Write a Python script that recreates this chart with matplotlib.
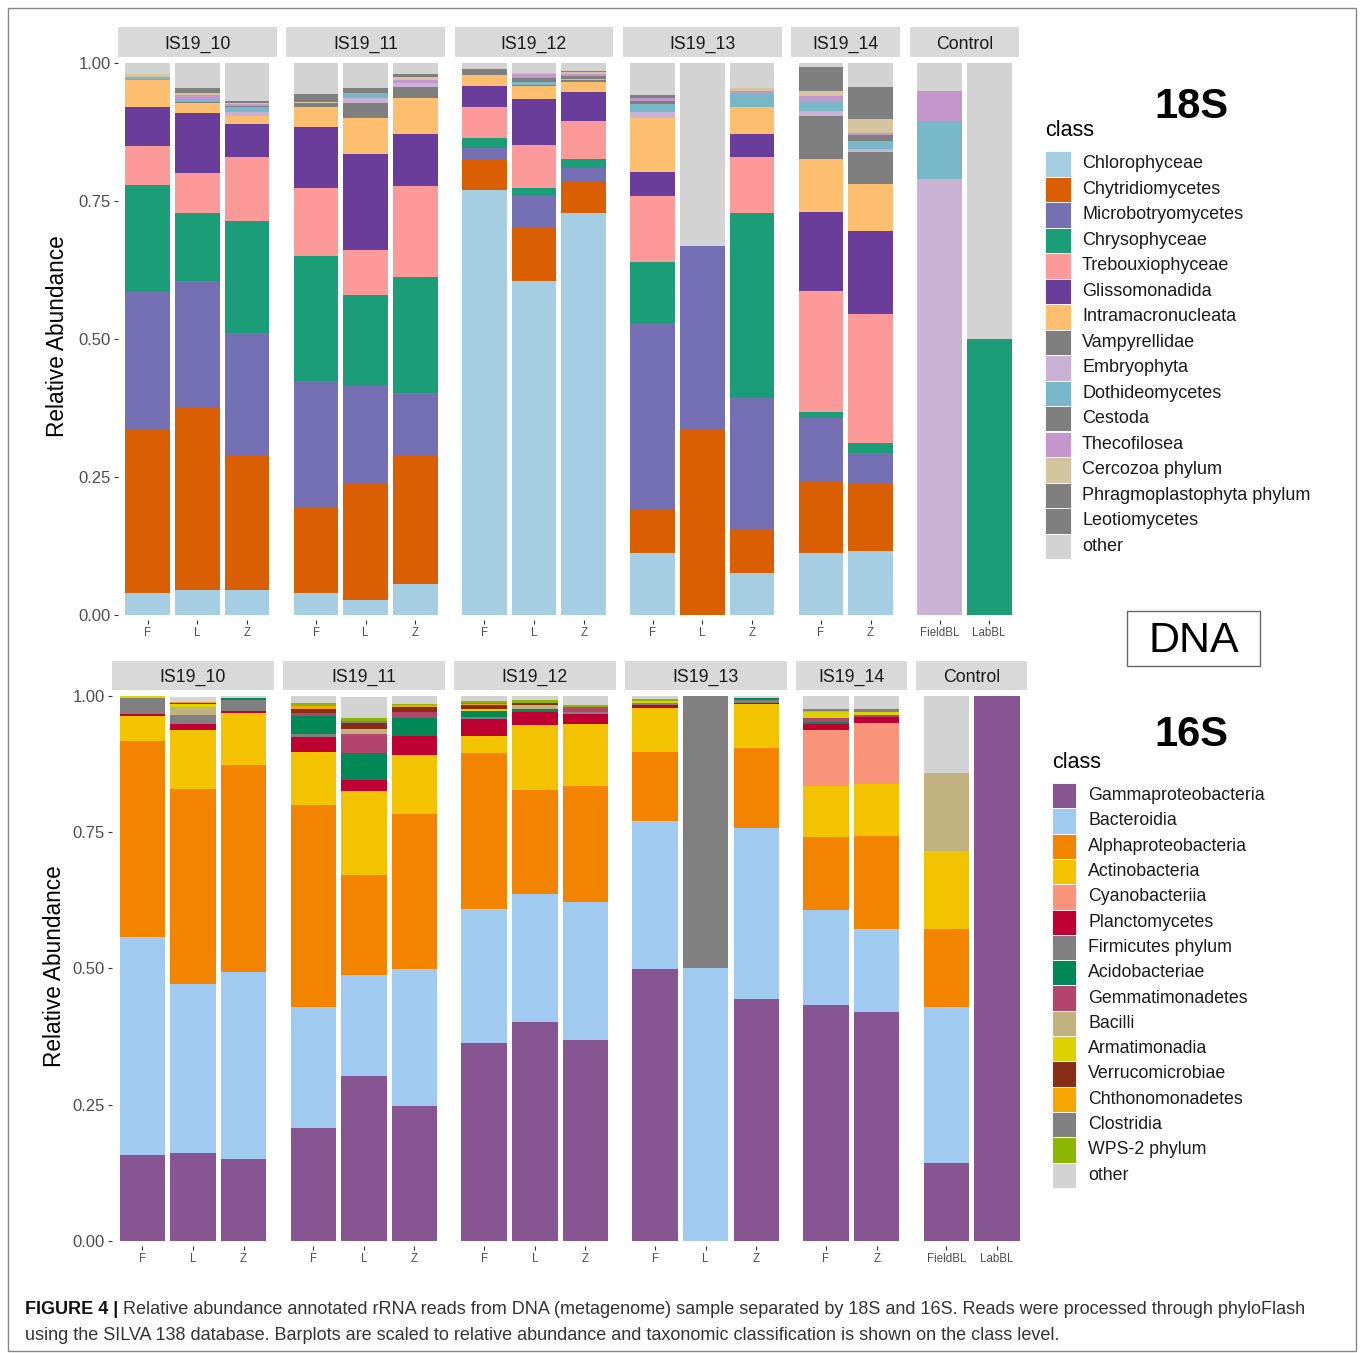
import matplotlib.pyplot as plt
from matplotlib.patches import Rectangle
import numpy as np

plt.rcParams['font.family'] = ['Liberation Sans', 'DejaVu Sans']

W, H = 1360, 1353

sites = ["IS19_10", "IS19_11", "IS19_12", "IS19_13", "IS19_14", "Control"]
bar_site = ["IS19_10", "IS19_10", "IS19_10", "IS19_11", "IS19_11", "IS19_11",
            "IS19_12", "IS19_12", "IS19_12", "IS19_13", "IS19_13", "IS19_13",
            "IS19_14", "IS19_14", "Control", "Control"]
bar_sample = ["F", "L", "Z", "F", "L", "Z", "F", "L", "Z", "F", "L", "Z",
              "F", "Z", "FieldBL", "LabBL"]

# ---- 18S (eukaryotes) ----
classes_18s = ["Chlorophyceae", "Chytridiomycetes", "Microbotryomycetes", "Chrysophyceae",
               "Trebouxiophyceae", "Glissomonadida", "Intramacronucleata", "Vampyrellidae",
               "Embryophyta", "Dothideomycetes", "Cestoda", "Thecofilosea", "Cercozoa phylum",
               "Phragmoplastophyta phylum", "Leotiomycetes", "other"]
colors_18s = ["#A6CEE3", "#D95F02", "#7570B3", "#1B9E77", "#FB9A99", "#6A3D9A", "#FDBF6F",
              "#7F7F7F", "#CAB2D6", "#78B7C8", "#7F7F7F", "#C396CC", "#D4C49F",
              "#7F7F7F", "#7F7F7F", "#D3D3D3"]

chlorophyceae = [.040, .045, .045, .040, .027, .056, .770, .605, .728, .112, 0, .076, .112, .116, 0, 0]
chytridiomycetes = [.295, .332, .245, .156, .212, .234, .056, .098, .058, .080, .335, .080, .129, .123, 0, 0]
microbotryomycetes = [.252, .228, .221, .228, .176, .112, .020, .058, .023, .337, .333, .237, .116, .054, 0, 0]
chrysophyceae = [.192, .123, .203, .226, .165, .210, .018, .013, .017, .110, 0, .335, .011, .018, 0, .500]
trebouxiophyceae = [.071, .072, .116, .123, .082, .165, .056, .078, .069, .121, 0, .102, .219, .234, 0, 0]
glissomonadida = [.071, .109, .060, .111, .174, .094, .038, .083, .053, .042, 0, .041, .143, .150, 0, 0]
intramacronucleata = [.049, .018, .014, .036, .064, .065, .020, .023, .018, .098, 0, .049, .096, .085, 0, 0]
vampyrellidae = [0, .002, 0, .008, .028, .021, .012, .003, .003, 0, 0, 0, .078, .059, 0, 0]
embryophyta = [0, 0, .007, 0, .009, .006, 0, 0, .002, .011, 0, 0, .009, .005, .790, 0]
dothideomycetes = [.005, .005, .010, 0, .009, 0, 0, .005, 0, .014, 0, .024, .018, .014, .105, 0]
cestoda = [0, .001, .001, 0, 0, 0, 0, .007, .006, .006, 0, 0, 0, .011, 0, 0]
thecofilosea = [0, .007, .004, 0, 0, .006, 0, .007, .003, .006, 0, .005, .009, .005, .054, 0]
cercozoa = [.005, .004, .001, .002, 0, .006, 0, .002, .003, 0, 0, .005, .009, .024, 0, 0]
phragmoplastophyta = [0, .009, .004, .014, .009, .005, 0, 0, .003, .006, 0, 0, .043, .058, 0, 0]
leotiomycetes = [0, 0, 0, 0, 0, 0, 0, 0, 0, 0, 0, 0, 0, 0, 0, 0]
other_18s = [.020, .045, .070, .056, .045, .020, .011, .018, .015, .057, .332, .046, .008, .044, .051, .500]

values_18s = [chlorophyceae, chytridiomycetes, microbotryomycetes, chrysophyceae,
              trebouxiophyceae, glissomonadida, intramacronucleata, vampyrellidae,
              embryophyta, dothideomycetes, cestoda, thecofilosea, cercozoa,
              phragmoplastophyta, leotiomycetes, other_18s]

# ---- 16S (bacteria) ----
classes_16s = ["Gammaproteobacteria", "Bacteroidia", "Alphaproteobacteria", "Actinobacteria",
               "Cyanobacteriia", "Planctomycetes", "Firmicutes phylum", "Acidobacteriae",
               "Gemmatimonadetes", "Bacilli", "Armatimonadia", "Verrucomicrobiae",
               "Chthonomonadetes", "Clostridia", "WPS-2 phylum", "other"]
colors_16s = ["#875692", "#A1CAF1", "#F38400", "#F3C300", "#F99379", "#BE0032", "#808080",
              "#008856", "#B3446C", "#C2B280", "#DCD300", "#882D17", "#F6A600", "#808080",
              "#8DB600", "#D3D3D3"]

gammaproteobacteria = [.158, .161, .150, .207, .303, .248, .363, .402, .369, .499, 0, .444, .433, .420, .143, 1.0]
bacteroidia = [.400, .310, .343, .222, .185, .251, .246, .235, .253, .272, .500, .314, .174, .152, .286, 0]
alphaproteobacteria = [.360, .358, .380, .371, .183, .284, .286, .191, .213, .126, 0, .147, .134, .171, .143, 0]
actinobacteria = [.046, .108, .096, .097, .154, .108, .032, .119, .114, .081, 0, .080, .094, .095, .143, 0]
cyanobacteriia = [0, 0, 0, 0, 0, 0, 0, 0, 0, 0, 0, 0, .103, .112, 0, 0]
planctomycetes = [.003, .012, .003, .028, .020, .035, .031, .024, .018, .006, 0, .003, .011, .011, 0, 0]
firmicutes = [.029, .016, .021, .006, 0, 0, .004, 0, .003, .004, .500, .005, 0, 0, 0, 0]
acidobacteriae = [0, 0, .003, .033, .051, .033, .010, .005, 0, 0, 0, .004, .003, 0, 0, 0]
gemmatimonadetes = [0, 0, 0, .004, .034, .012, 0, 0, .009, 0, 0, 0, .007, .005, 0, 0]
bacilli = [0, .015, 0, 0, .010, 0, 0, .007, 0, 0, 0, 0, 0, 0, .143, 0]
armatimonadia = [.004, .006, 0, 0, 0, 0, .004, 0, 0, .003, 0, 0, .011, .004, 0, 0]
verrucomicrobiae = [0, .0015, 0, .008, .010, .008, .007, .005, 0, 0, 0, 0, 0, 0, 0, 0]
chthonomonadetes = [0, .0015, 0, .006, 0, .004, .003, 0, 0, 0, 0, 0, .003, 0, 0, 0]
clostridia = [0, 0, 0, 0, .005, 0, .002, 0, 0, 0, 0, 0, .004, .006, 0, 0]
wps2 = [0, 0, 0, .006, .0055, .003, .002, .0055, .005, .003, 0, 0, 0, 0, 0, 0]
other_16s = [0, .010, .004, .012, .0385, .0135, .010, .0065, .016, .006, 0, .003, .023, .024, .142, 0]

values_16s = [gammaproteobacteria, bacteroidia, alphaproteobacteria, actinobacteria,
              cyanobacteriia, planctomycetes, firmicutes, acidobacteriae, gemmatimonadetes,
              bacilli, armatimonadia, verrucomicrobiae, chthonomonadetes, clostridia,
              wps2, other_16s]


def fx(px):
    return px / W


def fy(py):
    return 1 - py / H


fig = plt.figure(figsize=(W / 100, H / 100), dpi=100)


def draw_row(values, colors, left0, unit, gap, top, bottom, strip_top, ylab_x):
    x = left0
    for k, site in enumerate(sites):
        idx = [i for i, s in enumerate(bar_site) if s == site]
        n = len(idx)
        w = (n + 0.2) * unit
        ax = fig.add_axes([fx(x), fy(bottom), w / W, (bottom - top) / H])
        pos = np.arange(n)
        base = np.zeros(n)
        for vals, col in zip(values, colors):
            v = np.array([vals[i] for i in idx], dtype=float)
            ax.bar(pos, v, bottom=base, width=0.9, color=col, linewidth=0)
            base += v
        ax.set_xlim(-0.6, n - 0.4)
        ax.set_ylim(-0.0092, 1.011)
        for sp in ax.spines.values():
            sp.set_visible(False)
        ax.set_xticks(pos)
        ax.set_xticklabels([bar_sample[i] for i in idx], fontsize=8.3, color="#4D4D4D")
        ax.tick_params(axis='x', length=2.7, width=0.8, color="#333333", pad=2.5)
        if k == 0:
            ax.set_yticks([0, 0.25, 0.5, 0.75, 1.0])
            ax.set_yticklabels(["0.00", "0.25", "0.50", "0.75", "1.00"], fontsize=12, color="#4D4D4D")
            ax.tick_params(axis='y', length=2.7, width=0.8, color="#333333", pad=2.5)
        else:
            ax.set_yticks([])
        # facet strip
        sax = fig.add_axes([fx(x), fy(top), w / W, (top - strip_top) / H])
        sax.set_facecolor("#D9D9D9")
        sax.set_xticks([])
        sax.set_yticks([])
        for sp in sax.spines.values():
            sp.set_visible(False)
        sax.text(0.5, 0.42, site, ha='center', va='center', fontsize=12.8, color="#1A1A1A",
                 transform=sax.transAxes)
        x += w + gap
    fig.text(fx(ylab_x), fy((top + bottom) / 2 - 2), "Relative Abundance", rotation=90,
             ha='center', va='center', fontsize=16.3, color="#000000")


draw_row(values_18s, colors_18s, 118, 49.65, 9.4, 57, 620, 27, 58)
draw_row(values_16s, colors_16s, 112, 50.6, 9.0, 690, 1246, 661, 55)


def draw_legend(classes, colors, key_x, key_top, key_w, row_h, text_gap, title_y, fs):
    fig.text(fx(key_x), fy(title_y), "class", ha='left', va='center', fontsize=15.5)
    for i, (name, col) in enumerate(zip(classes, colors)):
        y0 = key_top + i * row_h
        fig.patches.append(Rectangle((fx(key_x), fy(y0 + row_h)), key_w / W, row_h / H,
                                     transform=fig.transFigure, facecolor=col,
                                     edgecolor='white', linewidth=0.6))
        fig.text(fx(key_x + key_w + text_gap), fy(y0 + row_h / 2), name, ha='left',
                 va='center', fontsize=fs, color="#1A1A1A")


draw_legend(classes_18s, colors_18s, 1045, 151, 26, 25.5, 11, 130, 13)
draw_legend(classes_16s, colors_16s, 1052, 783, 24, 25.3, 12, 762, 12.8)

fig.text(fx(1191), fy(107), "18S", ha='center', va='center', fontsize=30, fontweight='bold')
fig.text(fx(1191), fy(735), "16S", ha='center', va='center', fontsize=30, fontweight='bold')
fig.patches.append(Rectangle((fx(1127), fy(666)), (1260 - 1127) / W, (666 - 611) / H,
                             transform=fig.transFigure, fill=False, edgecolor="#666666", linewidth=1))
fig.text(fx(1193.5), fy(641), "DNA", ha='center', va='center', fontsize=31)

# outer frame
fig.patches.append(Rectangle((fx(8), fy(1351)), (1356 - 8) / W, (1351 - 8) / H,
                             transform=fig.transFigure, fill=False, edgecolor="#888888", linewidth=1))

# caption
r = fig.canvas.get_renderer()
t1 = fig.text(fx(25), fy(1310), "FIGURE 4 |", ha='left', va='center', fontsize=13,
              fontweight='bold', color="#111111")
bb = t1.get_window_extent(renderer=r)
fig.text(bb.x1 / fig.bbox.width, fy(1310),
         " Relative abundance annotated rRNA reads from DNA (metagenome) sample separated by 18S and 16S. Reads were processed through phyloFlash",
         ha='left', va='center', fontsize=13, color="#333333")
fig.text(fx(25), fy(1335),
         "using the SILVA 138 database. Barplots are scaled to relative abundance and taxonomic classification is shown on the class level.",
         ha='left', va='center', fontsize=13, color="#333333")

fig.savefig("out.png", dpi=100)
